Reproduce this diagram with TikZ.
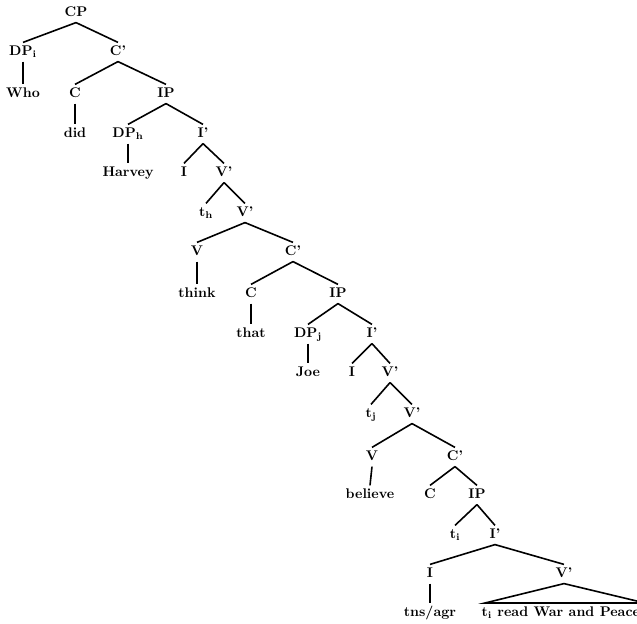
\documentclass[tikz,border=0pt]{standalone}
\usepackage{tikz}
\usetikzlibrary{positioning}

\begin{document}
\begin{tikzpicture}[x=0.75pt, y=-0.75pt]
        \tikzstyle{cat}=[font=\fontsize{10.5}{12}\selectfont\bfseries,
            inner sep=2.5pt, text height=7pt, text depth=2pt]
        \tikzstyle{branch}=[line width=1.2pt]

            \useasboundingbox (0,0) rectangle (637,624);

            \node[cat] (cp)     at (76,13)   {CP};
            \node[cat] (dpi)    at (23,52)   {DP\textsubscript{i}};
            \node[cat] (cbar1)  at (118,52)  {C'};
            \node[cat] (who)    at (23,94)   {Who};
            \node[cat] (c1)     at (75,94)   {C};
            \node[cat] (ip1)    at (166,94)  {IP};
            \node[cat] (did)    at (75,134)  {did};
            \node[cat] (dph)    at (128,134) {DP\textsubscript{h}};
            \node[cat] (ibar1)  at (203,134) {I'};
            \node[cat] (harvey) at (128,173) {Harvey};
            \node[cat] (i1)     at (184,173) {I};
            \node[cat] (vbar1)  at (224,173) {V'};
            \node[cat] (th)     at (206,213) {t\textsubscript{h}};
            \node[cat] (vbar2)  at (245,213) {V'};
            \node[cat] (v1)     at (197,252) {V};
            \node[cat] (cbar2)  at (293,252) {C'};
            \node[cat] (think)  at (197,294) {think};
            \node[cat] (c2)     at (251,294) {C};
            \node[cat] (ip2)    at (338,294) {IP};
            \node[cat] (that)   at (251,334) {that};
            \node[cat] (dpj)    at (308,334) {DP\textsubscript{j}};
            \node[cat] (ibar2)  at (372,334) {I'};
            \node[cat] (joe)    at (308,373) {Joe};
            \node[cat] (i2)     at (352,373) {I};
            \node[cat] (vbar3)  at (390,373) {V'};
            \node[cat] (tj)     at (371,414) {t\textsubscript{j}};
            \node[cat] (vbar4)  at (412,414) {V'};
            \node[cat] (v2)     at (372,457) {V};
            \node[cat] (cbar3)  at (455,457) {C'};
            \node[cat] (believe) at (370,495) {believe};
            \node[cat] (c3)     at (430,495) {C};
            \node[cat] (ip3)    at (477,495) {IP};
            \node[cat] (ti)     at (455,535) {t\textsubscript{i}};
            \node[cat] (ibar3)  at (495,535) {I'};
            \node[cat] (i3)     at (430,574) {I};
            \node[cat] (vbar5)  at (564,574) {V'};
            \node[cat] (tns)    at (430,613) {tns/agr};
            \node[cat, anchor=west] (read) at (478,613)
            {t\textsubscript{i} read War and Peace};

            \foreach \p/\c in {cp/dpi, cp/cbar1, dpi/who, cbar1/c1,
                cbar1/ip1, c1/did, ip1/dph, ip1/ibar1, dph/harvey,
                ibar1/i1, ibar1/vbar1, vbar1/th, vbar1/vbar2,
                vbar2/v1, vbar2/cbar2, v1/think, cbar2/c2, cbar2/ip2,
                c2/that, ip2/dpj, ip2/ibar2, dpj/joe, ibar2/i2,
                ibar2/vbar3, vbar3/tj, vbar3/vbar4, vbar4/v2,
                vbar4/cbar3, v2/believe, cbar3/c3, cbar3/ip3,
                ip3/ti, ip3/ibar3, ibar3/i3, ibar3/vbar5, i3/tns}
            {
                \draw[branch] (\p.south) -- (\c.north);
            }

            \coordinate (tl) at (485,603);
            \coordinate (tr) at (645,603);
            \draw[branch] (vbar5.south) -- (tr) -- (tl) -- cycle;
    \end{tikzpicture}
\end{document}
